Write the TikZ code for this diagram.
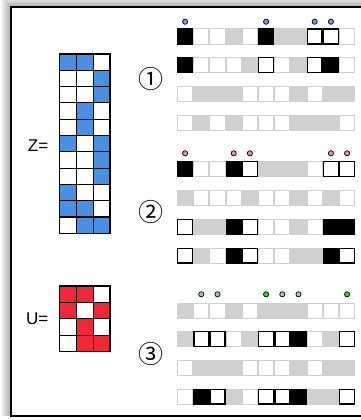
\documentclass[tikz,border=0pt]{standalone}
\usepackage{fontspec}
\setmainfont{Liberation Sans}
\newfontfamily\circfont{Noto Sans CJK SC}
\definecolor{stripgray}{RGB}{208,208,208}
\definecolor{zblue}{RGB}{74,144,226}
\definecolor{ured}{RGB}{240,38,58}
\definecolor{dotblue}{RGB}{110,155,240}
\definecolor{dotpink}{RGB}{240,140,175}
\definecolor{dotgreenA}{RGB}{40,220,40}
\definecolor{dotgreenB}{RGB}{140,215,140}
\tikzset{
  matcell/.style={draw=black,line width=1.1pt},
  dotmark/.style={draw=black,line width=0.7pt},
  eqlabel/.style={font=\fontsize{17}{17}\selectfont,anchor=east,inner sep=0pt},
  circnum/.style={font=\circfont\fontsize{25}{25}\selectfont,inner sep=0pt},
}
\newcommand\cellrowX[2]{%
  \fill[stripgray] (177,#1) rectangle ++(178.2,16.2);
  \foreach \c [count=\i from 0] in {#2} {%
    \if\c W\fill[white] ({177+16.2*\i+1},{#1+1}) rectangle ++(14.2,14.2);\fi
    \if\c B\fill[black] ({177+16.2*\i},{#1}) rectangle ++(16.2,16.2);\fi
    \if\c O\filldraw[fill=white,draw=black,line width=1.4pt] ({177+16.2*\i+0.7},{#1+0.7}) rectangle ++(14.8,14.8);\fi
  }%
}
\newcommand\dotsX[3]{%
  \foreach \k in {#2} {\filldraw[dotmark,fill=#3] ({177+16.2*(\k+0.5)},#1) circle (2.6);}%
}
\begin{document}
\begin{tikzpicture}[x=1pt,y=-1pt]
\useasboundingbox (0,0) rectangle (360,420);
% shadow
\foreach \k in {1,...,10} {\fill[black,opacity=0.035] ({11-\k},{7-\k}) rectangle (380,416);}
\filldraw[fill=white,draw=black,line width=2pt] (11,7) rectangle (375,416);

% Z matrix
\foreach \row [count=\r from 0] in {{1,1,0},{0,0,1},{0,0,1},{0,1,0},{0,1,0},{1,0,1},{0,0,1},{0,0,1},{1,0,0},{1,1,0},{0,1,1}} {
  \foreach \v [count=\cc from 0] in \row {
    \ifnum\v=1 \filldraw[matcell,fill=zblue] ({59.3+16.9*\cc},{54+16.3*\r}) rectangle ++(16.9,16.3);
    \else \filldraw[matcell,fill=white] ({59.3+16.9*\cc},{54+16.3*\r}) rectangle ++(16.9,16.3);\fi
  }
}
% U matrix
\foreach \row [count=\r from 0] in {{1,1,0},{1,0,1},{0,1,0},{0,1,1}} {
  \foreach \v [count=\cc from 0] in \row {
    \ifnum\v=1 \filldraw[matcell,fill=ured] ({59.3+16.9*\cc},{286+16.4*\r}) rectangle ++(16.9,16.4);
    \else \filldraw[matcell,fill=white] ({59.3+16.9*\cc},{286+16.4*\r}) rectangle ++(16.9,16.4);\fi
  }
}
\node[eqlabel] (zlab) at (48.5,145.5) {Z=};
\node[eqlabel] (ulab) at (48.5,318.5) {U=};

\node[circnum] (n1) at (151,79) {①};
\node[circnum] (n2) at (151,212) {②};
\node[circnum] (n3) at (151,354) {③};

% group 1
\dotsX{21.7}{0,5,8,9}{dotblue}
\cellrowX{28.5}{B,W,W,G,W,B,G,G,O,O,W}
\cellrowX{57}{B,W,W,W,G,O,W,G,O,B,W}
\cellrowX{86}{W,G,G,G,W,W,W,G,W,G,G}
\cellrowX{115}{W,G,W,G,W,W,W,G,G,G,W}
% group 2
\dotsX{153.3}{0,3,4,9,10}{dotpink}
\cellrowX{161}{B,W,W,B,O,G,G,G,W,O,O}
\cellrowX{189.5}{G,W,W,W,G,W,W,G,W,G,W}
\cellrowX{219}{O,G,G,B,O,W,W,G,W,B,B}
\cellrowX{247.5}{O,G,W,B,O,W,W,G,G,B,O}
% group 3
\dotsX{294.3}{1,2,6,7}{dotgreenB}
\dotsX{294.3}{5,10}{dotgreenA}
\cellrowX{303}{G,W,W,G,W,G,G,G,W,W,W}
\cellrowX{331}{G,O,O,W,G,O,O,B,W,G,O}
\cellrowX{359.5}{W,G,G,G,W,W,W,G,W,G,G}
\cellrowX{388.5}{W,B,O,G,W,O,O,B,G,G,O}
\end{tikzpicture}
\end{document}
